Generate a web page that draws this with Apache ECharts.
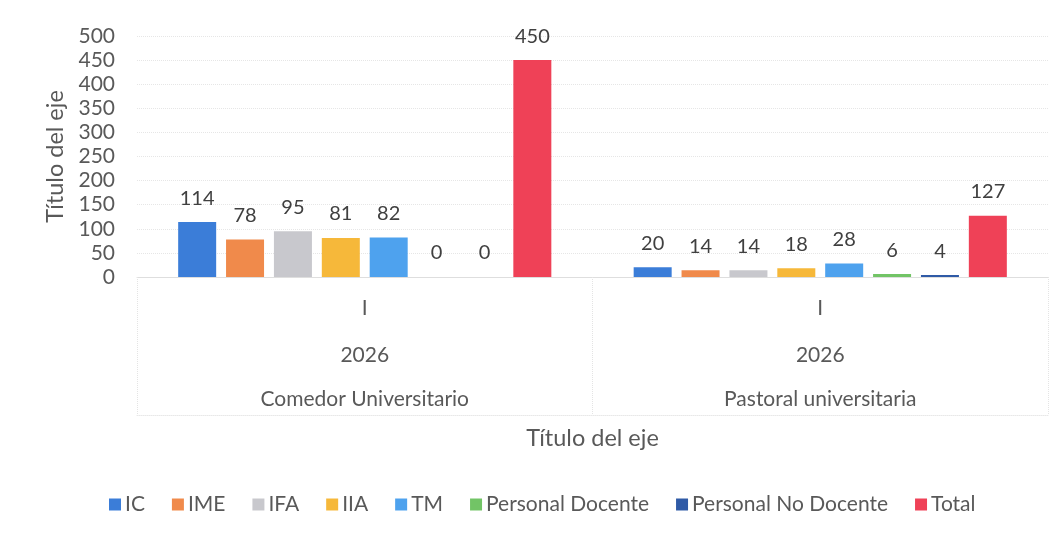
<!DOCTYPE html>
<html>
<head>
<meta charset="utf-8">
<script src="https://cdn.jsdelivr.net/npm/echarts@6/dist/echarts.min.js"></script>
<style>
html,body{margin:0;padding:0;background:#fff;}
#chart{width:1064px;height:538px;}
</style>
</head>
<body>
<div id="chart"></div>
<script>
// Data
const level1 = ['I', 'I'];
const level2 = ['2026', '2026'];
const level3 = ['Comedor Universitario', 'Pastoral universitaria'];
const seriesNames = ['IC', 'IME', 'IFA', 'IIA', 'TM', 'Personal Docente', 'Personal No Docente', 'Total'];
const IC = [114, 20];
const IME = [78, 14];
const IFA = [95, 14];
const IIA = [81, 18];
const TM = [82, 28];
const PersonalDocente = [0, 6];
const PersonalNoDocente = [0, 4];
const Total = [450, 127];
const yTicks = { min: 0, max: 500, interval: 50 };
const axisTitle = 'Título del eje';

const values = [IC, IME, IFA, IIA, TM, PersonalDocente, PersonalNoDocente, Total];
const colors = ['#3b7dd8', '#f08a4b', '#c8c8cd', '#f6b83a', '#4ea2ee', '#72c466', '#2f5aa6', '#ef4157'];
const FONT = 'Lato';
const TXT = '#595959';

const chart = echarts.init(document.getElementById('chart'), null, { renderer: 'canvas' });

const baseAxis = {
  type: 'category',
  gridIndex: 0,
  position: 'bottom',
  axisLine: { show: false },
  axisTick: { show: false },
  axisLabel: { show: true, color: TXT, fontSize: 21, fontFamily: FONT, margin: 21 },
  splitLine: { show: false }
};

const option = {
  backgroundColor: '#ffffff',
  animation: false,
  textStyle: { fontFamily: FONT },
  grid: { left: 137, right: 16, top: 36, bottom: 261, containLabel: false },
  legend: {
    data: seriesNames,
    bottom: 18,
    left: 104,
    itemWidth: 12,
    itemHeight: 12,
    itemGap: 27,
    icon: 'rect',
    textStyle: { color: TXT, fontSize: 21, fontFamily: FONT, padding: [0, 0, 0, -1] }
  },
  xAxis: [
    Object.assign({}, baseAxis, {
      data: level1,
      axisLine: { show: true, lineStyle: { color: '#dedede', width: 1 } },
      axisTick: { show: true, length: 138, interval: 0, lineStyle: { color: '#e4e4e4', type: 'dotted', width: 1 } }
    }),
    Object.assign({}, baseAxis, { data: level2, offset: 47 }),
    Object.assign({}, baseAxis, { data: level3, offset: 91 }),
    Object.assign({}, baseAxis, {
      data: level3,
      offset: 138,
      axisLabel: { show: false },
      axisLine: { show: true, lineStyle: { color: '#e8e8e8', type: 'dotted', width: 1 } },
      name: axisTitle,
      nameLocation: 'middle',
      nameGap: 11,
      nameTextStyle: { color: TXT, fontSize: 23.5, fontFamily: FONT }
    })
  ],
  yAxis: {
    type: 'value',
    min: yTicks.min,
    max: yTicks.max,
    interval: yTicks.interval,
    axisLine: { show: false },
    axisTick: { show: false },
    axisLabel: { color: TXT, fontSize: 21, fontFamily: FONT, margin: 22 },
    splitLine: { show: true, lineStyle: { color: '#e6e6e6', type: 'dotted', width: 1 } },
    name: axisTitle,
    nameLocation: 'middle',
    nameRotate: 90,
    nameGap: 70,
    nameTextStyle: { color: TXT, fontSize: 23.5, fontFamily: FONT }
  },
  series: seriesNames.map((name, i) => ({
    name: name,
    type: 'bar',
    xAxisIndex: 0,
    data: values[i],
    barWidth: 38,
    barGap: '26%',
    itemStyle: { color: colors[i] },
    label: {
      show: true,
      position: 'top',
      distance: 14,
      color: '#404040',
      fontSize: 20,
      fontFamily: FONT
    }
  }))
};

chart.setOption(option);
</script>
</body>
</html>
